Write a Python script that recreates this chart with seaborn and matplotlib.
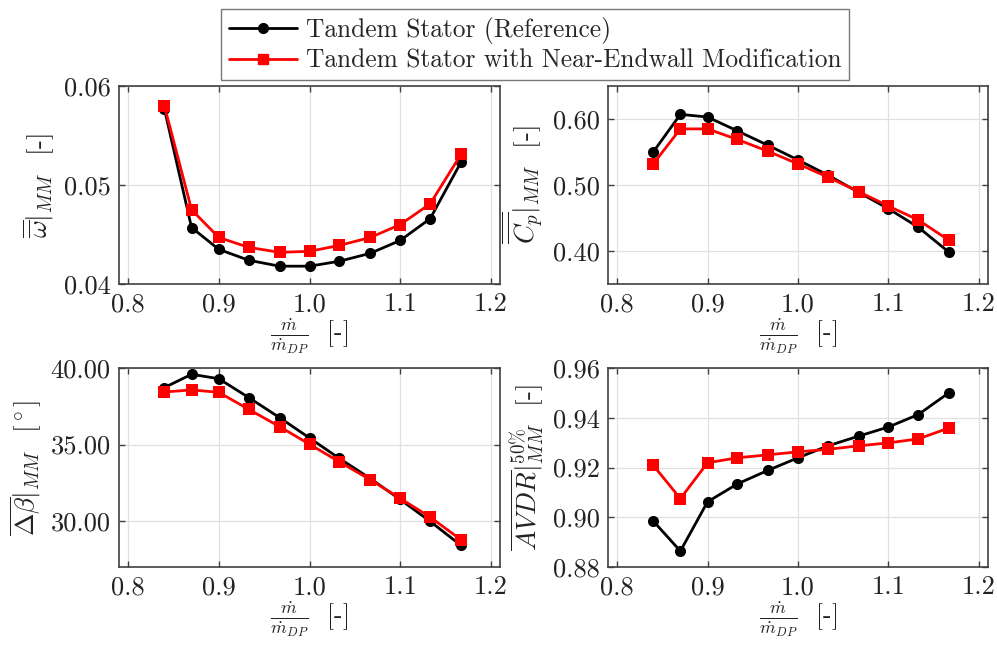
import numpy as np
import pandas as pd
import matplotlib
matplotlib.use("Agg")
import matplotlib.pyplot as plt
import seaborn as sns
from matplotlib.ticker import FormatStrFormatter
from matplotlib.lines import Line2D

# ---- data ----
mass_flow = [0.84, 0.87, 0.90, 0.933, 0.967, 1.00, 1.033, 1.067, 1.10, 1.133, 1.167]

omega_ref = [0.0577, 0.0457, 0.0435, 0.0424, 0.0418, 0.0418, 0.0423, 0.0431, 0.0444, 0.0466, 0.0523]
omega_mod = [0.0580, 0.0475, 0.0447, 0.0437, 0.0432, 0.0433, 0.0439, 0.0447, 0.0460, 0.0481, 0.0531]

cp_ref = [0.550, 0.607, 0.603, 0.582, 0.560, 0.538, 0.515, 0.489, 0.464, 0.436, 0.398]
cp_mod = [0.532, 0.585, 0.585, 0.569, 0.551, 0.532, 0.512, 0.490, 0.468, 0.447, 0.416]

dbeta_ref = [38.72, 39.59, 39.30, 38.07, 36.76, 35.43, 34.09, 32.78, 31.41, 29.98, 28.41]
dbeta_mod = [38.43, 38.57, 38.41, 37.30, 36.17, 35.02, 33.87, 32.70, 31.48, 30.26, 28.78]

avdr_ref = [0.8985, 0.8864, 0.9062, 0.9134, 0.9189, 0.9239, 0.9287, 0.9326, 0.9363, 0.9413, 0.9501]
avdr_mod = [0.9209, 0.9075, 0.9219, 0.9239, 0.9251, 0.9263, 0.9273, 0.9287, 0.9299, 0.9315, 0.9359]

series_names = ["Tandem Stator (Reference)",
                "Tandem Stator with Near-Endwall Modification"]

x_ticks = [0.8, 0.9, 1.0, 1.1, 1.2]
omega_ticks = [0.04, 0.05, 0.06]
cp_ticks = [0.40, 0.50, 0.60]
dbeta_ticks = [30.0, 35.0, 40.0]
avdr_ticks = [0.88, 0.90, 0.92, 0.94, 0.96]

# ---- style ----
sns.set_theme(style="white")
plt.rcParams["font.family"] = ["cmr10", "DejaVu Serif"]
plt.rcParams["mathtext.fontset"] = "cm"
plt.rcParams["axes.unicode_minus"] = False
plt.rcParams["axes.formatter.use_mathtext"] = True

fig = plt.figure(figsize=(9.97, 6.45), dpi=100)
W, H = 997, 645
def ax_at(l, t, r, b):
    return fig.add_axes([l / W, 1 - b / H, (r - l) / W, (b - t) / H])

axes = [ax_at(119, 86, 500, 284), ax_at(608, 86, 988, 284),
        ax_at(119, 368, 500, 567), ax_at(608, 368, 988, 567)]

panels = [
    (omega_ref, omega_mod, omega_ticks, (0.04, 0.06), "%.2f",
     r"$\overline{\overline{\omega}}|_{MM}$  [-]"),
    (cp_ref, cp_mod, cp_ticks, (0.35, 0.65), "%.2f",
     r"$\overline{\overline{C_p}}|_{MM}$  [-]"),
    (dbeta_ref, dbeta_mod, dbeta_ticks, (27.0, 40.0), "%.2f",
     r"$\overline{\Delta\beta}|_{MM}$  [$^\circ$]"),
    (avdr_ref, avdr_mod, avdr_ticks, (0.88, 0.96), "%.2f",
     r"$\overline{AVDR}|^{50\%}_{MM}$  [-]"),
]

palette = {series_names[0]: "black", series_names[1]: "#ff0000"}
markers = {series_names[0]: "o", series_names[1]: "s"}

for ax, (ref, mod, yt, ylim, fmt, ylab) in zip(axes, panels):
    df = pd.DataFrame({
        "x": mass_flow * 2,
        "y": list(ref) + list(mod),
        "series": [series_names[0]] * len(ref) + [series_names[1]] * len(mod),
    })
    sns.lineplot(data=df, x="x", y="y", hue="series", style="series",
                 palette=palette, markers=markers, dashes=False,
                 markersize=8, linewidth=2, markeredgewidth=0,
                 legend=False, ax=ax, sort=False)
    ax.set_xlim(0.79, 1.21)
    ax.set_ylim(*ylim)
    ax.set_xticks(x_ticks)
    ax.set_yticks(yt)
    ax.xaxis.set_major_formatter(FormatStrFormatter("%.1f"))
    ax.yaxis.set_major_formatter(FormatStrFormatter(fmt))
    ax.grid(True, color="#e0e0e0", linewidth=0.9)
    ax.set_axisbelow(True)
    for s in ax.spines.values():
        s.set_visible(True)
        s.set_color("#404040")
        s.set_linewidth(1.2)
    ax.tick_params(direction="in", length=4, width=1, color="#404040",
                   top=True, right=True, bottom=True, left=True,
                   labelsize=19, pad=6, labelcolor="#222222")
    ax.set_xlabel(r"$\frac{\dot{m}}{\dot{m}_{DP}}$  [-]", fontsize=18.5,
                  color="#222222", labelpad=0.5)
    ax.set_ylabel(ylab, fontsize=19.5, color="#222222", labelpad=5)

handles = [Line2D([], [], color="black", marker="o", markersize=7, linewidth=2),
           Line2D([], [], color="#ff0000", marker="s", markersize=7, linewidth=2)]
leg = fig.legend(handles, series_names, loc="upper left",
                 bbox_to_anchor=(221 / W, 1 - 9 / H), frameon=True,
                 fontsize=18.3, handlelength=2.7, handletextpad=0.35,
                 borderpad=0.3, labelspacing=0.2, fancybox=False,
                 borderaxespad=0, edgecolor="#555555")
leg.get_frame().set_linewidth(1.0)

fig.savefig("out.png", dpi=100)
